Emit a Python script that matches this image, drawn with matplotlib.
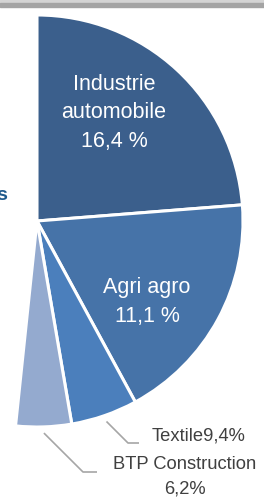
import matplotlib
matplotlib.use("Agg")
import matplotlib.pyplot as plt
from matplotlib.patches import Rectangle
import numpy as np

# visible sectors (shares) + hidden remainder
sectors = ["Industrie automobile", "Agri agro", "Textile", "BTP Construction", "autres"]
shares = [23.75, 18.33, 5.22, 4.36, 48.34]
colors = ["#3b5f8c", "#4673a8", "#4b7fbc", "#94aacf", "white"]
inside_labels = ["Industrie\nautomobile\n16,4 %", "Agri agro\n11,1 %"]
outside_labels = ["Textile9,4%", "BTP Construction\n6,2%"]

W, H = 264, 497
cx, cy, R = 37, 221, 206  # pie centre / radius in pixels

plt.rcParams["font.family"] = ["Liberation Sans", "DejaVu Sans"]

fig = plt.figure(figsize=(W / 100, H / 100), dpi=100)
ax = fig.add_axes([0, 0, 1, 1])

wedges, _ = ax.pie(shares, colors=colors, startangle=90, counterclock=False,
                   radius=1, wedgeprops=dict(edgecolor="white", linewidth=2.2))
wedges[-1].set_edgecolor("none")

ax.set_xlim(-cx / R, (W - cx) / R)
ax.set_ylim((cy - H) / R, cy / R)
ax.set_aspect("auto")
ax.axis("off")


def px(x, y):
    # pixel (top-left origin) -> data coords
    return (x - cx) / R, (cy - y) / R


# white labels inside the big wedges
ax.text(*px(114, 113), inside_labels[0], color="white", fontsize=15.5,
        ha="center", va="center", linespacing=1.5)
ax.text(*px(147, 302), inside_labels[1], color="white", fontsize=15.5,
        ha="center", va="center", linespacing=1.5)

# outside labels with leader lines
grey = "#a6a6a6"
for w, lab, knee, end, tpos in [
    (wedges[2], outside_labels[0], (128, 443), (139, 443), (199, 436)),
    (wedges[3], outside_labels[1], (83, 472), (97, 472), (185, 477)),
]:
    mid = np.deg2rad((w.theta1 + w.theta2) / 2)
    x0, y0 = 1.03 * np.cos(mid), 1.03 * np.sin(mid)
    k = px(*knee)
    e = px(*end)
    ax.plot([x0, k[0], e[0]], [y0, k[1], e[1]], color=grey, lw=1.2,
            solid_capstyle="butt")
    ax.text(*px(*tpos), lab, color="#404040", fontsize=13.2, ha="center",
            va="center", linespacing=1.55)

# fragment of a neighbouring label cut by the left edge
ax.text(*px(7, 196), "s", color="#1f5a8c", fontsize=14, fontweight="bold",
        ha="right", va="center")

# grey rule along the top
fig.patches.append(Rectangle((0, 1 - 3 / H), 1, 3 / H, transform=fig.transFigure,
                             color="#d4d4d4", zorder=5))
fig.patches.append(Rectangle((0, 1 - 7 / H), 1, 4 / H, transform=fig.transFigure,
                             color="#a4a4a4", zorder=5))

fig.savefig("out.png", dpi=100)
